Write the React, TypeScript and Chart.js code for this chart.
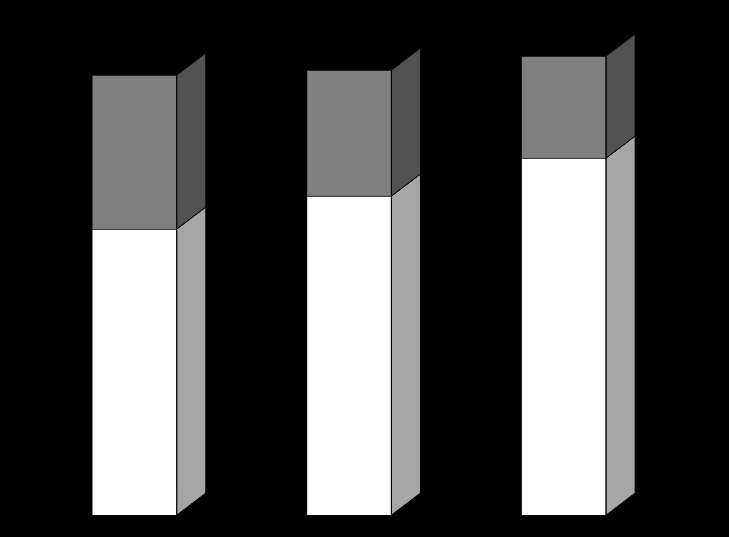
import React, { useEffect, useRef } from 'react';
import { Chart, registerables } from 'chart.js';

Chart.register(...registerables);

const categories = ['1', '2', '3'];
const lowerValues = [57.2, 63.8, 71.4];
const upperValues = [30.8, 25.2, 20.4];

const frontColors = ['#ffffff', '#808080'];
const sideColors = ['#a6a6a6', '#525252'];

const DEPTH_X = 29;
const DEPTH_Y = -22;

const sidePlugin = {
  id: 'sideFaces',
  beforeDraw(chart: any) {
    const ctx = chart.ctx;
    ctx.save();
    ctx.fillStyle = '#000000';
    ctx.fillRect(0, 0, chart.width, chart.height);
    ctx.restore();
  },
  afterDatasetsDraw(chart: any) {
    const ctx = chart.ctx;
    chart.data.datasets.forEach((_ds: any, di: number) => {
      const meta = chart.getDatasetMeta(di);
      meta.data.forEach((el: any) => {
        const p = el.getProps(['x', 'y', 'base', 'width'], true);
        const right = p.x + p.width / 2;
        const top = Math.min(p.y, p.base);
        const bottom = Math.max(p.y, p.base);
        ctx.save();
        ctx.beginPath();
        ctx.moveTo(right, bottom);
        ctx.lineTo(right, top);
        ctx.lineTo(right + DEPTH_X, top + DEPTH_Y);
        ctx.lineTo(right + DEPTH_X, bottom + DEPTH_Y);
        ctx.closePath();
        ctx.fillStyle = sideColors[di];
        ctx.fill();
        ctx.lineWidth = 1;
        ctx.strokeStyle = '#000000';
        ctx.stroke();
        ctx.restore();
      });
    });
  },
};

export default function App() {
  const ref = useRef<HTMLCanvasElement | null>(null);

  useEffect(() => {
    document.body.style.margin = '0';
    document.body.style.background = '#000000';
    if (!ref.current) return;
    const chart = new Chart(ref.current, {
      type: 'bar',
      data: {
        labels: categories,
        datasets: [
          {
            data: lowerValues,
            backgroundColor: frontColors[0],
            borderColor: '#000000',
            borderWidth: 1,
            barThickness: 85,
          },
          {
            data: upperValues,
            backgroundColor: frontColors[1],
            borderColor: '#000000',
            borderWidth: 1,
            barThickness: 85,
          },
        ],
      },
      options: {
        animation: false,
        responsive: false,
        devicePixelRatio: 1,
        layout: { padding: { left: 27, right: 58, top: 15, bottom: 22 } },
        plugins: { legend: { display: false }, tooltip: { enabled: false } },
        scales: {
          x: { stacked: true, display: false },
          y: { stacked: true, display: false, min: 0, max: 100 },
        },
      },
      plugins: [sidePlugin],
    });
    return () => chart.destroy();
  }, []);

  return (
    <div style={{ width: 729, height: 537, background: '#000000' }}>
      <canvas ref={ref} width={729} height={537} style={{ display: 'block' }} />
    </div>
  );
}
